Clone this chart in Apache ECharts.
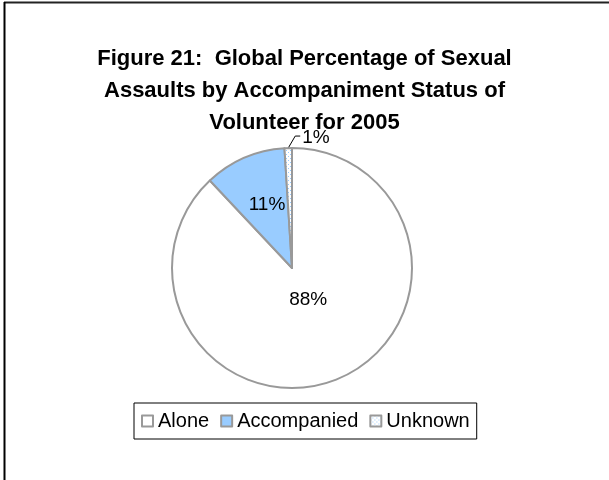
<!DOCTYPE html>
<html>
<head>
<meta charset="utf-8">
<script src="https://cdn.jsdelivr.net/npm/echarts@6/dist/echarts.min.js"></script>
<style>
  html, body { margin: 0; padding: 0; background: #fff; }
  #chart { width: 609px; height: 480px; }
</style>
</head>
<body>
<div id="chart"></div>
<script>
// Accompaniment status of volunteers, share of assaults (%)
const categories = ['Alone', 'Accompanied', 'Unknown'];
const shares = [88, 11, 1];
const titleText = 'Figure 21:  Global Percentage of Sexual\nAssaults by Accompaniment Status of\nVolunteer for 2005';

// dotted fill for the "Unknown" slice
function dotPattern() {
  const c = document.createElement('canvas');
  c.width = 4; c.height = 4;
  const g = c.getContext('2d');
  g.fillStyle = '#ffffff';
  g.fillRect(0, 0, 4, 4);
  g.fillStyle = '#99ccff';
  g.fillRect(0, 0, 1, 1);
  g.fillRect(2, 2, 1, 1);
  return { image: c, repeat: 'repeat' };
}

const fills = ['#ffffff', '#99ccff', dotPattern()];
const labelSetup = [
  { position: 'inside', offset: [-7, -27] },
  { position: 'inside', offset: [0, -5] },
  { position: 'outside' }
];

const chart = echarts.init(document.getElementById('chart'), null, { renderer: 'canvas' });
const font = '"Liberation Sans", Arial, sans-serif';

chart.setOption({
  animation: false,
  backgroundColor: '#ffffff',
  title: {
    text: titleText,
    left: 'center',
    top: 38,
    textStyle: {
      fontFamily: font,
      fontSize: 22,
      fontWeight: 'bold',
      color: '#000',
      lineHeight: 32
    }
  },
  legend: {
    data: categories,
    left: 134,
    top: 403,
    orient: 'horizontal',
    padding: [8, 7, 8, 7],
    itemGap: 11,
    itemWidth: 11,
    itemHeight: 11,
    icon: 'rect',
    borderColor: '#000',
    borderWidth: 1,
    textStyle: { fontFamily: font, fontSize: 20, color: '#000' }
  },
  graphic: [
    { type: 'line', shape: { x1: 4, y1: 2.5, x2: 609, y2: 2.5 }, style: { stroke: '#222', lineWidth: 2 } },
    { type: 'line', shape: { x1: 4.5, y1: 2, x2: 4.5, y2: 480 }, style: { stroke: '#000', lineWidth: 2 } }
  ],
  series: [{
    type: 'pie',
    center: [292, 268],
    radius: 120,
    startAngle: 90,
    clockwise: true,
    itemStyle: { borderColor: '#999999', borderWidth: 2 },
    label: {
      fontFamily: font,
      fontSize: 19,
      color: '#000',
      formatter: '{c}%'
    },
    labelLine: { show: true, length: 8, length2: 5, lineStyle: { color: '#000', width: 1 } },
    // the small slice's callout bends up and to the right of the slice
    labelLayout: function (params) {
      if (params.dataIndex !== 2 || !params.labelLinePoints) return {};
      const p0 = params.labelLinePoints[0];
      const p1 = [p0[0] + 7, p0[1] - 12];
      const p2 = [p1[0] + 5, p1[1]];
      return {
        x: p2[0] + 2,
        y: p1[1] + 2,
        align: 'left',
        verticalAlign: 'middle',
        labelLinePoints: [p0, p1, p2]
      };
    },
    emphasis: { disabled: true },
    data: categories.map((name, i) => ({
      name: name,
      value: shares[i],
      itemStyle: { color: fills[i] },
      label: labelSetup[i],
      labelLine: { show: i === 2 }
    }))
  }]
});
</script>
</body>
</html>
